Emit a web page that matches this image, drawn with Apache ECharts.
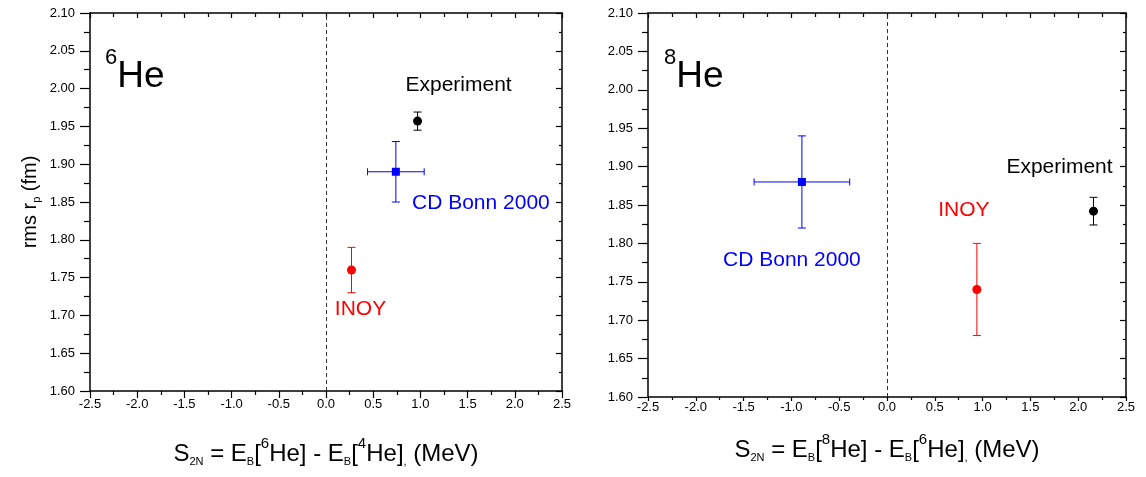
<!DOCTYPE html>
<html><head><meta charset="utf-8">
<script src="https://cdn.jsdelivr.net/npm/echarts@6/dist/echarts.min.js"></script>
<style>html,body{margin:0;padding:0;background:#fff}#c{width:1146px;height:477px}</style>
</head><body><div id="c"></div>
<script>
// ---- data ----
const categories = ['Experiment', 'CD Bonn 2000', 'INOY'];
// 6He panel
const he6X = [0.97, 0.74, 0.27];
const he6Y = [1.957, 1.89, 1.76];
const he6XErr = [0, 0.30, 0];
const he6YErr = [0.012, 0.04, 0.03];
// 8He panel
const he8X = [2.16, -0.89, 0.94];
const he8Y = [1.842, 1.88, 1.74];
const he8XErr = [0, 0.5, 0];
const he8YErr = [0.018, 0.06, 0.06];
// axis ranges / ticks
const xMin = -2.5, xMax = 2.5, xStep = 0.5;
const yMin = 1.6, yMax = 2.1, yStep = 0.05;
const referenceX = 0;

// ---- styles ----
const FONT = '"Liberation Sans", Arial, Helvetica, sans-serif';
const colors = ['#000000', '#0000ff', '#ff0000'];
const symbols = ['circle', 'rect', 'circle'];
const symbolSizes = [9, 8, 9];
const labelOffsets = [
  [[41, -36], [85, 31], [9, 39]],
  [[-34, -44], [-10, 78], [-13, -79]]
];

const subRich = {
  m: {fontSize: 24, lineHeight: 40, fontFamily: FONT, color: '#000'},
  sub: {fontSize: 11, lineHeight: 12, fontFamily: FONT, color: '#000', padding: [15, 0, 0, 0]},
  sup: {fontSize: 15, lineHeight: 15, fontFamily: FONT, color: '#000', padding: [0, 0, 21, 0]}
};
function xTitle(a, b) {
  return '{m|S}{sub|2N}{m| = E}{sub|B}{m|[}{sup|' + a + '}{m|He] - E}{sub|B}{m|[}{sup|' + b + '}{m|He]}{sub|,}{m| (MeV)}';
}

const axisLineStyle = {color: '#000', width: 1.5};
const tickLineStyle = {color: '#000', width: 1.2};

function xAxes(g, titleA, titleB, gap, labelMargin, tickLen) {
  return [{
    gridIndex: g, type: 'value', position: 'bottom', min: xMin, max: xMax, interval: xStep,
    axisLine: {show: true, onZero: false, lineStyle: axisLineStyle},
    axisTick: {show: true, inside: false, length: tickLen, lineStyle: tickLineStyle},
    minorTick: {show: true, splitNumber: 2, length: Math.min(4, tickLen - 1), lineStyle: tickLineStyle},
    splitLine: {show: false}, minorSplitLine: {show: false},
    axisLabel: {color: '#000', fontSize: 13, fontFamily: FONT, margin: labelMargin, formatter: v => v.toFixed(1)},
    name: xTitle(titleA, titleB), nameLocation: 'middle', nameGap: gap, nameMoveOverlap: false,
    nameTextStyle: {rich: subRich}
  }, {
    gridIndex: g, type: 'value', position: 'top', min: xMin, max: xMax, interval: xStep,
    axisLine: {show: true, onZero: false, lineStyle: axisLineStyle},
    axisTick: {show: true, inside: true, length: 5, lineStyle: tickLineStyle},
    minorTick: {show: true, splitNumber: 2, length: 4, lineStyle: tickLineStyle},
    splitLine: {show: false}, minorSplitLine: {show: false},
    axisLabel: {show: false}
  }];
}
function yAxes(g, withName) {
  const left = {
    gridIndex: g, type: 'value', position: 'left', min: yMin, max: yMax, interval: yStep,
    axisLine: {show: true, onZero: false, lineStyle: axisLineStyle},
    axisTick: {show: true, inside: false, length: 10, lineStyle: tickLineStyle},
    minorTick: {show: true, splitNumber: 2, length: 6, lineStyle: tickLineStyle},
    splitLine: {show: false}, minorSplitLine: {show: false},
    axisLabel: {color: '#000', fontSize: 13, fontFamily: FONT, margin: 15, formatter: v => v.toFixed(2)}
  };
  if (withName) {
    left.name = '{m|rms r}{sub|p}{m| (fm)}';
    left.nameLocation = 'middle';
    left.nameGap = 45;
    left.nameMoveOverlap = false;
    left.nameTextStyle = {rich: {
      m: {fontSize: 20, lineHeight: 30, fontFamily: FONT, color: '#000'},
      sub: {fontSize: 11, lineHeight: 12, fontFamily: FONT, color: '#000', padding: [14, 0, 0, 0]}
    }};
  }
  const right = {
    gridIndex: g, type: 'value', position: 'right', min: yMin, max: yMax, interval: yStep,
    axisLine: {show: true, onZero: false, lineStyle: axisLineStyle},
    axisTick: {show: true, inside: true, length: 6, lineStyle: tickLineStyle},
    minorTick: {show: true, splitNumber: 2, length: 3, lineStyle: tickLineStyle},
    splitLine: {show: false}, minorSplitLine: {show: false},
    axisLabel: {show: false}
  };
  return [left, right];
}

function errRender(params, api) {
  const x = api.value(0), y = api.value(1), xe = api.value(2), ye = api.value(3);
  const style = {stroke: api.visual('color'), lineWidth: 1, fill: null};
  const ch = [];
  const line = (x1, y1, x2, y2) => ch.push({type: 'line', shape: {x1, y1, x2, y2}, style});
  if (ye > 0) {
    const t = api.coord([x, y + ye]), b = api.coord([x, y - ye]);
    line(t[0], t[1], b[0], b[1]);
    line(t[0] - 4, t[1], t[0] + 4, t[1]);
    line(b[0] - 4, b[1], b[0] + 4, b[1]);
  }
  if (xe > 0) {
    const l = api.coord([x - xe, y]), r = api.coord([x + xe, y]);
    line(l[0], l[1], r[0], r[1]);
    line(l[0], l[1] - 3.5, l[0], l[1] + 3.5);
    line(r[0], r[1] - 3.5, r[0], r[1] + 3.5);
  }
  return {type: 'group', children: ch};
}

const panels = [
  {X: he6X, Y: he6Y, XE: he6XErr, YE: he6YErr, xi: 0, yi: 0},
  {X: he8X, Y: he8Y, XE: he8XErr, YE: he8YErr, xi: 2, yi: 2}
];
const series = [];
panels.forEach((p, pi) => {
  categories.forEach((name, i) => {
    series.push({
      type: 'custom', name: name, xAxisIndex: p.xi, yAxisIndex: p.yi, z: 2,
      itemStyle: {color: colors[i], opacity: 1}, renderItem: errRender,
      encode: {x: 0, y: 1},
      data: [[p.X[i], p.Y[i], p.XE[i], p.YE[i]]], silent: true
    });
    const s = {
      type: 'scatter', name: name, xAxisIndex: p.xi, yAxisIndex: p.yi, z: 3,
      symbol: symbols[i], symbolSize: symbolSizes[i],
      itemStyle: {color: colors[i], borderWidth: 0, opacity: 1},
      label: {show: true, position: 'inside', offset: labelOffsets[pi][i], formatter: name,
        color: colors[i], opacity: 1, fontSize: 21, fontFamily: FONT, textBorderWidth: 0},
      data: [[p.X[i], p.Y[i]]], silent: true
    };
    if (i === 0) {
      s.markLine = {silent: true, symbol: ['none', 'none'], label: {show: false},
        lineStyle: {color: '#333', width: 1, type: [4, 3], opacity: 1},
        data: [{xAxis: referenceX}]};
    }
    series.push(s);
  });
});

function bigLabel(left, num) {
  return {
    left: left, top: 57, padding: 0,
    text: '{sup|' + num + '}{he|He}',
    textStyle: {fontWeight: 'normal', rich: {
      he: {fontSize: 37, lineHeight: 40, fontFamily: FONT, fontWeight: 'normal', color: '#000'},
      sup: {fontSize: 22, lineHeight: 22, fontFamily: FONT, fontWeight: 'normal', color: '#000', padding: [0, 0, 39, 0]}
    }}
  };
}

const chart = echarts.init(document.getElementById('c'), null, {renderer: 'canvas'});
chart.setOption({
  animation: false,
  backgroundColor: '#fff',
  title: [bigLabel(105, '6'), bigLabel(664, '8')],
  grid: [
    {left: 90, top: 13, width: 472, height: 378, outerBoundsMode: 'none', containLabel: false},
    {left: 648, top: 13, width: 478, height: 384, outerBoundsMode: 'none', containLabel: false}
  ],
  xAxis: [...xAxes(0, '6', '4', 43, 7, 7), ...xAxes(1, '8', '6', 33, 4, 4)],
  yAxis: [...yAxes(0, true), ...yAxes(1, false)],
  series: series
});
</script></body></html>
